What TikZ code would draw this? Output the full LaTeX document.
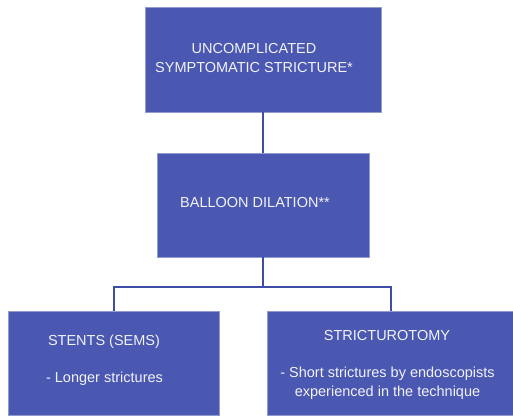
\documentclass[tikz,border=0pt]{standalone}
\usepackage{fontspec}
\setmainfont{Liberation Sans}
\definecolor{boxfill}{HTML}{4A58B1}
\definecolor{linecol}{HTML}{3E4EA6}
\definecolor{txt}{HTML}{F2F2F8}
\begin{document}
\begin{tikzpicture}[x=1pt,y=-1pt,
  box/.style={draw=boxfill!60!white,line width=0.6pt,fill=boxfill,inner sep=0pt,anchor=center},
  lbl/.style={text=txt,font=\fontsize{14.5}{19}\selectfont,align=center,inner sep=0pt,anchor=center},
  conn/.style={draw=linecol,line width=2pt}]
\useasboundingbox (0,0) rectangle (513,416);
\node[box,minimum width=236pt,minimum height=105pt] (top) at (263,59.5) {};
\node[box,minimum width=212pt,minimum height=104pt] (mid) at (263,205) {};
\node[box,minimum width=211pt,minimum height=104pt] (bl) at (113.5,363) {};
\node[box,minimum width=247pt,minimum height=104pt] (br) at (390.5,363) {};
\node[lbl] (toptext) at (254,58.5) {UNCOMPLICATED\\SYMPTOMATIC STRICTURE*};
\node[lbl] (midtext) at (255,203) {BALLOON DILATION**};
\node[lbl] (bltitle) at (104,342) {STENTS (SEMS)};
\node[lbl] (bltext) at (104.5,379) {- Longer strictures};
\node[lbl] (brtitle) at (387,335) {STRICTUROTOMY};
\node[lbl] (brtext) at (387.5,383.5) {- Short strictures by endoscopists\\experienced in the technique};
\coordinate (j) at (263,287);
\draw[conn] (top.south) -- (mid.north);
\draw[conn] (mid.south) -- (j);
\draw[conn] (j) -| (bl.north);
\draw[conn] (j) -| (br.north);
\end{tikzpicture}
\end{document}
